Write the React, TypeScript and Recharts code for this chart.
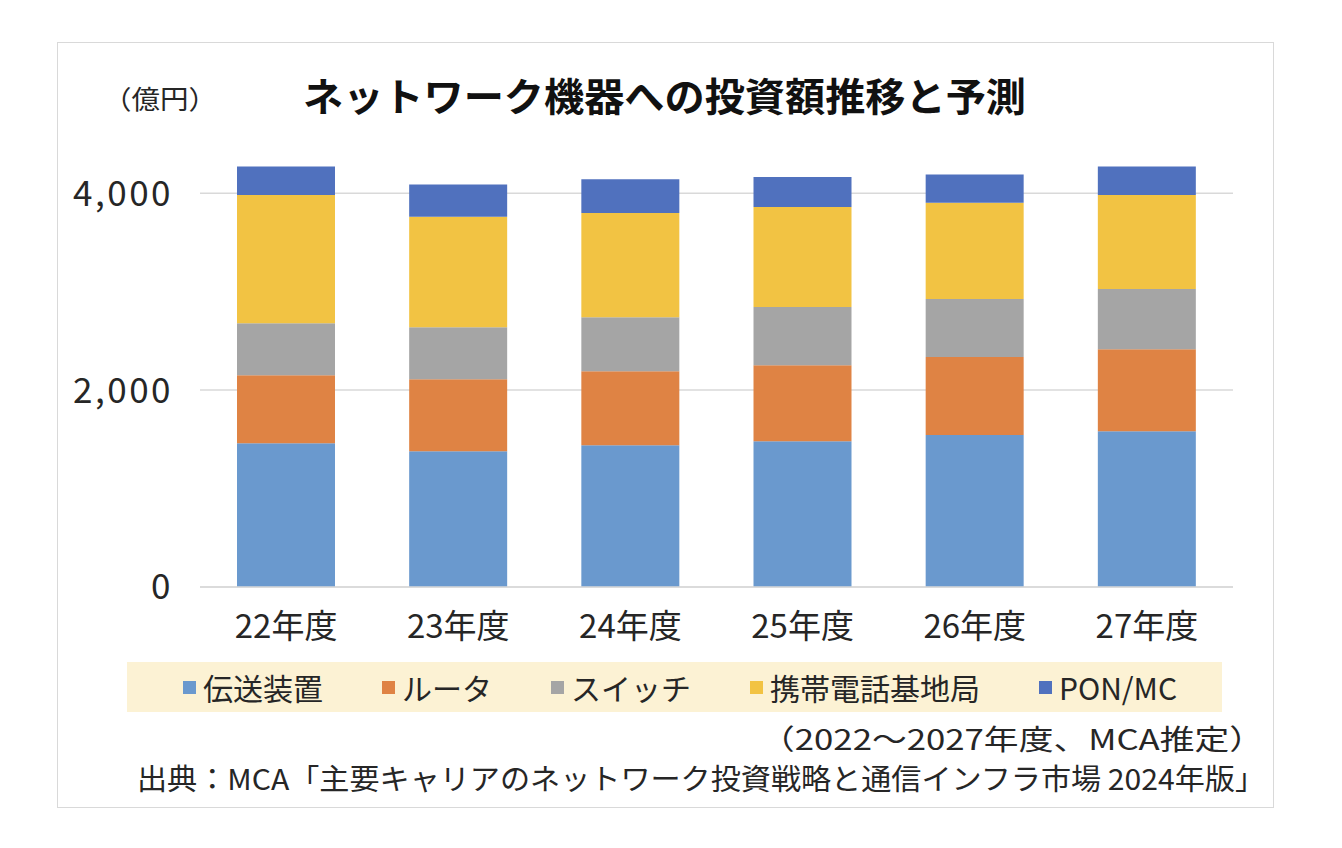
import React from "react";
import { Bar, BarChart, CartesianGrid, Legend, XAxis, YAxis } from "recharts";

const years = ["22年度", "23年度", "24年度", "25年度", "26年度", "27年度"];
const transmission = [1460, 1379, 1440, 1480, 1544, 1582];
const router = [691, 731, 751, 772, 793, 833];
const switches = [528, 529, 549, 593, 589, 613];
const mobileBase = [1304, 1121, 1060, 1016, 976, 955];
const ponMc = [288, 328, 342, 305, 288, 288];
const yTicks = [0, 2000, 4000];

const FONT = "'Noto Sans CJK JP', 'Noto Sans', sans-serif";

const series = [
  { key: "transmission", name: "伝送装置", color: "#6a99ce", values: transmission },
  { key: "router", name: "ルータ", color: "#df8344", values: router },
  { key: "switches", name: "スイッチ", color: "#a5a5a5", values: switches },
  { key: "mobileBase", name: "携帯電話基地局", color: "#f2c343", values: mobileBase },
  { key: "ponMc", name: "PON/MC", color: "#5071be", values: ponMc },
];

const data = years.map((year, i) => {
  const row: Record<string, string | number> = { year };
  series.forEach((s) => {
    row[s.key] = s.values[i];
  });
  return row;
});

function ChartLegend() {
  return (
    <div
      style={{
        width: 1095,
        height: 50,
        background: "#fcf2d4",
        display: "flex",
        alignItems: "center",
        justifyContent: "center",
        gap: 59,
        fontFamily: FONT,
        fontSize: 30,
        color: "#262626",
        paddingLeft: 11,
        boxSizing: "border-box",
      }}
    >
      {series.map((s) => (
        <div key={s.key} style={{ display: "flex", alignItems: "center" }}>
          <span
            style={{
              width: 13,
              height: 13,
              background: s.color,
              marginRight: 7,
              display: "inline-block",
            }}
          />
          <span style={{ lineHeight: "30px" }}>{s.name}</span>
        </div>
      ))}
    </div>
  );
}

export default function App() {
  return (
    <div style={{ position: "absolute", left: 0, top: 0, width: 1342, height: 848, background: "#fff" }}>
      <div
        style={{
          position: "absolute",
          left: 57,
          top: 42,
          width: 1215,
          height: 764,
          border: "1px solid #d9d9d9",
        }}
      />
      <div style={{ position: "absolute", left: 0, top: 0 }}>
        <BarChart
          width={1342}
          height={848}
          data={data}
          margin={{ top: 144, right: 109, bottom: 231, left: 100 }}
          barSize={98}
        >
          <CartesianGrid
            vertical={false}
            horizontalValues={yTicks}
            stroke="#d9d9d9"
            strokeWidth={1.5}
          />
          <XAxis
            dataKey="year"
            axisLine={{ stroke: "#d9d9d9", strokeWidth: 1.5 }}
            tickLine={false}
            tickMargin={22}
            tick={{ fontSize: 33, fill: "#262626", fontFamily: FONT }}
            height={30}
          />
          <YAxis
            width={100}
            domain={[0, 4500]}
            ticks={yTicks}
            axisLine={false}
            tickLine={false}
            tickMargin={21}
            tickFormatter={(v: number) => v.toLocaleString("en-US")}
            tick={{ fontSize: 35, fill: "#262626", fontFamily: FONT, letterSpacing: 2.5 }}
          />
          <Legend
            layout="horizontal"
            verticalAlign="middle"
            content={<ChartLegend />}
            wrapperStyle={{ left: 127, top: 662, width: 1095, height: 50 }}
          />
          {series.map((s) => (
            <Bar
              key={s.key}
              dataKey={s.key}
              name={s.name}
              stackId="total"
              fill={s.color}
              isAnimationActive={false}
            />
          ))}
        </BarChart>
      </div>
      <svg
        width={1342}
        height={848}
        style={{ position: "absolute", left: 0, top: 0, pointerEvents: "none" }}
      >
        <text
          x={103}
          y={97}
          fontSize={26}
          fill="#262626"
          fontFamily={FONT}
          dominantBaseline="central"
          textLength={114}
          lengthAdjust="spacingAndGlyphs"
        >
          （億円）
        </text>
        <text
          x={303}
          y={94}
          fontSize={39}
          fontWeight="bold"
          fill="#111"
          fontFamily={FONT}
          dominantBaseline="central"
          textLength={723}
          lengthAdjust="spacingAndGlyphs"
        >
          ネットワーク機器への投資額推移と予測
        </text>
        <text
          x={760}
          y={738}
          fontSize={28}
          fill="#262626"
          fontFamily={FONT}
          dominantBaseline="central"
          textLength={504}
          lengthAdjust="spacingAndGlyphs"
        >
          （2022～2027年度、MCA推定）
        </text>
        <text
          x={137}
          y={777}
          fontSize={29}
          fill="#262626"
          fontFamily={FONT}
          dominantBaseline="central"
          textLength={1128}
          lengthAdjust="spacingAndGlyphs"
        >
          出典：MCA「主要キャリアのネットワーク投資戦略と通信インフラ市場 2024年版」
        </text>
      </svg>
    </div>
  );
}
